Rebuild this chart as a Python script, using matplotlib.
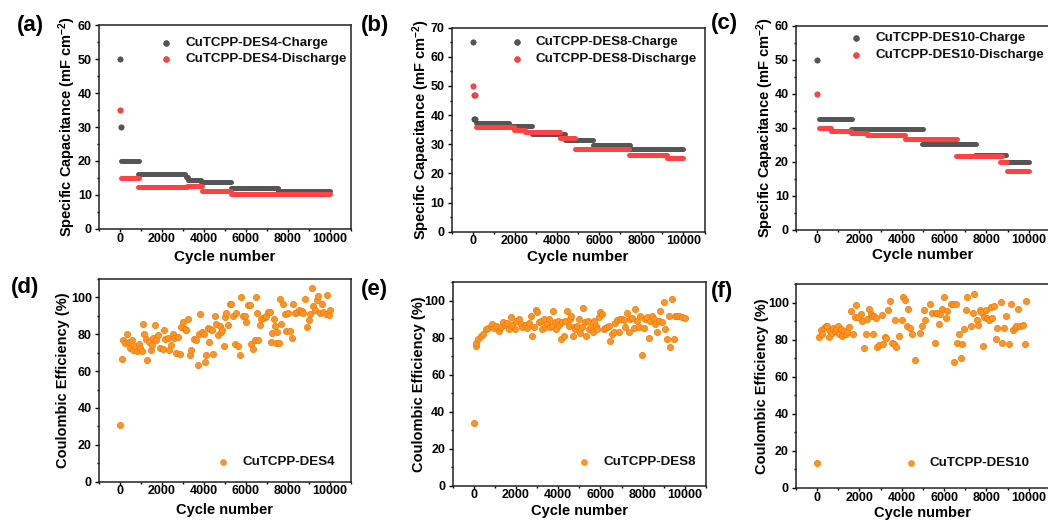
import matplotlib
matplotlib.use("Agg")
import matplotlib.pyplot as plt
from matplotlib.lines import Line2D
from matplotlib.ticker import MultipleLocator

plt.rcParams['font.family'] = ['Liberation Sans', 'DejaVu Sans']
plt.rcParams['font.weight'] = 'bold'
plt.rcParams['axes.labelweight'] = 'bold'
plt.rcParams['mathtext.default'] = 'regular'

# ---------------- data ----------------
# (a) CuTCPP-DES4
a_chg_pts_x = [0, 30]
a_chg_pts_y = [50.0, 30.0]
a_chg_seg_start = [50, 850, 3150, 3250, 3850, 5300, 7500]
a_chg_seg_end = [900, 3100, 3250, 3850, 5300, 7500, 10000]
a_chg_seg_val = [20.1, 16.3, 15.2, 14.4, 13.9, 12.0, 11.2]
a_dis_pts_x = [0]
a_dis_pts_y = [35.0]
a_dis_seg_start = [50, 850, 3200, 3900, 5300]
a_dis_seg_end = [900, 3200, 3900, 5300, 10000]
a_dis_seg_val = [15.0, 12.3, 12.7, 11.3, 10.3]

# (b) CuTCPP-DES8
b_chg_pts_x = [0, 50, 100]
b_chg_pts_y = [65.0, 38.6, 38.6]
b_chg_seg_start = [150, 1700, 2800, 4400, 5700, 7450]
b_chg_seg_end = [1700, 2800, 4400, 5700, 7450, 10000]
b_chg_seg_val = [37.3, 36.1, 33.6, 31.5, 29.9, 28.5]
b_dis_pts_x = [0, 50, 100]
b_dis_pts_y = [50.0, 46.8, 46.8]
b_dis_seg_start = [150, 1950, 2500, 4150, 4850, 7400, 9200]
b_dis_seg_end = [1950, 2500, 4150, 4850, 7400, 9200, 10000]
b_dis_seg_val = [36.0, 34.8, 34.2, 32.3, 28.5, 26.4, 25.4]

# (c) CuTCPP-DES10
c_chg_pts_x = [0]
c_chg_pts_y = [50.0]
c_chg_seg_start = [100, 1600, 4950, 7450, 8850]
c_chg_seg_end = [1650, 5000, 7500, 8900, 10000]
c_chg_seg_val = [32.6, 29.8, 25.3, 21.9, 19.9]
c_dis_pts_x = [0]
c_dis_pts_y = [40.0]
c_dis_seg_start = [100, 650, 1600, 2350, 4150, 6550, 8650, 8950]
c_dis_seg_end = [650, 1600, 2350, 4150, 6600, 8750, 8950, 10000]
c_dis_seg_val = [30.0, 29.0, 28.4, 27.9, 26.8, 21.6, 19.9, 17.2]

# (d) Coulombic efficiency DES4
d_cycle = [0, 96, 159, 255, 334, 446, 494, 573, 637, 732, 796, 892, 971, 1051, 1083, 1130,
           1242, 1290, 1401, 1481, 1528, 1592, 1656, 1719, 1815, 1910, 2038, 2086, 2165, 2277,
           2356, 2436, 2515, 2595, 2643, 2754, 2834, 2913, 2993, 3088, 3152, 3232, 3311, 3391,
           3502, 3598, 3709, 3757, 3821, 3884, 3980, 4044, 4107, 4187, 4235, 4298, 4362, 4426,
           4505, 4585, 4664, 4744, 4808, 4872, 4935, 4999, 5063, 5158, 5222, 5301, 5381, 5461,
           5540, 5636, 5700, 5779, 5859, 5939, 6018, 6098, 6177, 6241, 6336, 6416, 6464, 6543,
           6591, 6655, 6734, 6814, 6893, 6973, 7053, 7132, 7212, 7260, 7323, 7387, 7419, 7482,
           7562, 7610, 7689, 7769, 7864, 7928, 8008, 8087, 8167, 8247, 8326, 8406, 8533, 8597,
           8661, 8724, 8820, 8883, 8979, 9043, 9122, 9202, 9281, 9361, 9441, 9520, 9600, 9680,
           9807, 9880, 9930, 9990]
d_ce = [31.0, 66.6, 77.1, 75.3, 80.3, 75.8, 72.7, 77.1, 71.7, 73.5, 70.9, 74.5, 72.7, 70.9,
        85.4, 80.3, 77.4, 66.2, 75.6, 71.7, 74.0, 78.2, 84.8, 76.7, 79.4, 72.7, 72.2, 82.5,
        77.3, 78.2, 71.3, 74.0, 80.3, 78.2, 69.9, 78.5, 69.1, 83.9, 86.8, 83.0, 82.5, 88.3,
        68.6, 71.7, 77.4, 77.1, 63.2, 80.3, 90.8, 81.2, 80.0, 65.0, 68.6, 83.6, 75.8, 83.0,
        82.1, 69.5, 89.7, 85.7, 79.4, 84.7, 81.2, 82.1, 73.5, 89.3, 91.5, 85.2, 96.6, 96.6,
        90.1, 74.9, 91.5, 73.5, 68.6, 100.5, 89.7, 89.7, 86.8, 96.0, 96.0, 74.9, 72.2, 76.7,
        100.5, 91.7, 77.1, 84.8, 88.4, 89.0, 89.3, 89.9, 92.1, 92.1, 76.0, 80.7, 88.4, 84.7,
        75.3, 81.2, 75.3, 99.1, 85.4, 96.6, 91.2, 81.8, 91.3, 81.8, 78.2, 96.6, 91.5, 92.1,
        93.3, 92.1, 92.6, 91.5, 99.3, 83.9, 87.5, 91.2, 104.9, 95.3, 93.3, 98.4, 100.9, 91.7,
        96.2, 92.1, 91.2, 101.1, 90.3, 93.0]

# (e) Coulombic efficiency DES8
e_cycle = [0, 94, 126, 220, 331, 441, 567, 693, 803, 882, 961, 1040, 1197, 1276, 1386, 1481,
           1591, 1670, 1748, 1827, 1953, 2016, 2142, 2221, 2300, 2426, 2536, 2615, 2693, 2772,
           2851, 2930, 3008, 3087, 3166, 3245, 3323, 3402, 3481, 3560, 3638, 3717, 3764, 3843,
           3906, 4000, 4064, 4127, 4190, 4268, 4347, 4426, 4505, 4583, 4631, 4694, 4757, 4820,
           4898, 4977, 5056, 5135, 5198, 5261, 5339, 5418, 5481, 5576, 5639, 5702, 5796, 5859,
           5922, 6001, 6080, 6158, 6237, 6332, 6395, 6473, 6552, 6631, 6710, 6788, 6867, 6946,
           7025, 7103, 7182, 7261, 7340, 7418, 7497, 7576, 7655, 7733, 7812, 7891, 7970, 8048,
           8127, 8206, 8285, 8363, 8442, 8521, 8600, 8678, 8757, 8836, 8915, 8993, 9072, 9151,
           9230, 9308, 9387, 9466, 9545, 9623, 9702, 9860, 9990]
e_ce = [34.1, 75.2, 77.2, 79.3, 81.1, 82.0, 84.4, 85.1, 86.2, 87.4, 85.1, 86.5, 83.8, 85.6,
        88.3, 86.9, 88.0, 84.7, 91.0, 86.9, 84.7, 89.2, 90.1, 87.4, 85.6, 86.9, 85.1, 88.0,
        91.4, 81.1, 85.6, 95.0, 93.7, 88.3, 89.2, 84.7, 89.8, 85.6, 87.4, 90.1, 85.6, 86.5,
        94.6, 88.3, 84.7, 88.7, 86.9, 79.3, 88.3, 81.1, 89.2, 94.6, 86.5, 90.1, 91.4, 81.1,
        85.6, 84.7, 86.5, 90.1, 82.6, 85.6, 95.9, 88.3, 81.1, 88.7, 84.7, 85.6, 82.9, 88.7,
        86.5, 84.7, 91.0, 93.7, 92.8, 84.7, 85.1, 85.6, 86.2, 78.4, 82.0, 82.9, 88.0, 89.6,
        82.9, 90.1, 90.1, 89.6, 85.6, 93.3, 82.9, 90.1, 90.5, 85.1, 95.5, 89.2, 85.6, 91.9,
        70.7, 85.1, 90.1, 91.0, 79.7, 89.2, 91.9, 90.1, 87.4, 82.9, 89.2, 94.6, 88.3, 99.4,
        84.7, 79.0, 91.9, 74.9, 100.9, 79.3, 91.9, 91.9, 91.5, 91.0, 90.6]

# (f) Coulombic efficiency DES10
f_cycle = [0, 79, 158, 205, 315, 394, 473, 552, 599, 678, 741, 836, 899, 962, 1025, 1104,
           1183, 1262, 1340, 1419, 1498, 1577, 1687, 1782, 1845, 1940, 2050, 2129, 2208, 2287,
           2366, 2444, 2523, 2602, 2634, 2681, 2760, 2839, 2917, 3044, 3107, 3201, 3264, 3359,
           3422, 3517, 3627, 3674, 3737, 3864, 3990, 4053, 4148, 4258, 4305, 4400, 4463, 4621,
           4841, 4936, 5031, 5094, 5314, 5441, 5567, 5598, 5677, 5756, 5803, 5882, 5993, 6071,
           6150, 6324, 6418, 6466, 6544, 6623, 6702, 6781, 6860, 6939, 7018, 7097, 7254, 7365,
           7412, 7570, 7617, 7680, 7743, 7853, 7901, 7964, 8043, 8122, 8200, 8279, 8358, 8437,
           8516, 8674, 8752, 8831, 8910, 9068, 9147, 9257, 9352, 9415, 9509, 9572, 9746, 9825,
           9888]
f_ce = [13.5, 81.7, 85.1, 82.9, 86.5, 87.4, 87.4, 81.5, 84.7, 83.8, 86.5, 84.7, 85.6, 87.4,
        82.9, 85.6, 82.0, 84.7, 82.9, 84.4, 86.9, 95.5, 82.9, 92.3, 98.7, 92.6, 94.1, 90.1,
        75.7, 82.9, 91.5, 96.4, 93.7, 92.8, 82.9, 92.8, 91.9, 76.3, 77.2, 93.3, 77.5, 81.5,
        80.8, 96.2, 101.2, 78.3, 77.9, 90.5, 76.1, 82.0, 90.5, 103.2, 101.4, 87.4, 96.4, 86.5,
        82.9, 68.9, 83.8, 87.4, 95.9, 90.5, 99.4, 94.6, 78.4, 94.6, 94.6, 88.7, 94.1, 96.9,
        103.0, 91.9, 95.5, 99.4, 99.4, 68.2, 99.6, 78.4, 83.3, 70.0, 77.9, 85.6, 95.9, 103.0,
        87.4, 94.6, 104.8, 90.5, 88.0, 95.9, 95.1, 76.6, 92.3, 95.9, 91.9, 90.5, 97.6, 91.9,
        98.2, 80.2, 86.5, 100.5, 78.4, 86.5, 92.8, 77.9, 99.1, 85.1, 86.5, 87.4, 96.9, 87.4,
        88.0, 77.9, 101.2]

a_labels = ['CuTCPP-DES4-Charge', 'CuTCPP-DES4-Discharge']
b_labels = ['CuTCPP-DES8-Charge', 'CuTCPP-DES8-Discharge']
c_labels = ['CuTCPP-DES10-Charge', 'CuTCPP-DES10-Discharge']
d_label = 'CuTCPP-DES4'
e_label = 'CuTCPP-DES8'
f_label = 'CuTCPP-DES10'
x_ticks = [0, 2000, 4000, 6000, 8000, 10000]

# ---------------- style ----------------
W, H = 1048, 522
GRAY = '#555555'
GRAY_E = '#404040'
RED = '#ff4242'
RED_E = '#ea2828'
ORANGE = '#ff9526'
ORANGE_E = '#f07800'
TICK_FS = 9
LAB_FS = 11
YLAB_FS = 10.5
LEG_FS = 9.6
PANEL_FS = 16


def rect(l, r, t, b):
    return [l / W, 1 - b / H, (r - l) / W, (b - t) / H]


def fx(x):
    return x / W


def fy(y):
    return 1 - y / H


fig = plt.figure(figsize=(W / 100, H / 100), dpi=100)

ax_a = fig.add_axes(rect(99, 351, 25, 229))
ax_b = fig.add_axes(rect(451.7, 704.5, 27.7, 231.7))
ax_c = fig.add_axes(rect(796, 1050, 25.7, 230))
ax_d = fig.add_axes(rect(99, 351, 279, 481.7))
ax_e = fig.add_axes(rect(452.5, 706, 282, 485.7))
ax_f = fig.add_axes(rect(796, 1050, 284.3, 488))


def style_axes(ax, ymax, ymajor, yminor, ylabel, ylab_off, xlab_off, xlab_fs):
    ax.set_xlim(-1000, 11000)
    ax.set_ylim(0, ymax)
    ax.set_xticks(x_ticks)
    ax.xaxis.set_minor_locator(MultipleLocator(1000))
    ax.yaxis.set_major_locator(MultipleLocator(ymajor))
    ax.yaxis.set_minor_locator(MultipleLocator(yminor))
    ax.tick_params(which='both', direction='out', top=False, right=False,
                   labelsize=TICK_FS, width=1.0)
    ax.tick_params(axis='x', which='major', length=2.5, pad=0.2)
    ax.tick_params(axis='y', which='major', length=3, pad=2.2)
    ax.tick_params(which='minor', length=1.5)
    for lab in ax.get_xticklabels() + ax.get_yticklabels():
        lab.set_fontweight('bold')
    for s in ax.spines.values():
        s.set_linewidth(1.1)
        s.set_color('#222222')
    ax.set_xlabel('Cycle number', fontsize=xlab_fs, fontweight='bold')
    ax.set_ylabel(ylabel, fontsize=YLAB_FS, fontweight='bold')
    bb = ax.get_position()
    wpx = bb.width * W
    hpx = bb.height * H
    ax.yaxis.set_label_coords(-ylab_off / wpx, 0.5)
    ax.xaxis.set_label_coords(0.5, -xlab_off / hpx)


def draw_steps(ax, px, py, s0, s1, sv, color, ecolor):
    ax.hlines(sv, s0, s1, colors=color, linewidth=3.6, capstyle='round', zorder=3)
    ax.scatter(px, py, s=15, color=color, edgecolors=ecolor, linewidths=0.4, zorder=4)


def legend_rows(items, mx, tx, rows):
    for (color, ecolor, label), ry in zip(items, rows):
        fig.add_artist(Line2D([fx(mx)], [fy(ry)], marker='o', markersize=4.2,
                              color=color, markeredgecolor=ecolor, markeredgewidth=0.4,
                              linestyle='none', transform=fig.transFigure))
        fig.text(fx(tx), fy(ry), label, fontsize=LEG_FS, fontweight='bold',
                 ha='left', va='center', color='#111111')


ylab_cap = 'Specific Capacitance (mF cm$^{-2}$)'
ylab_ce = 'Coulombic Efficiency (%)'

# (a)
draw_steps(ax_a, a_chg_pts_x, a_chg_pts_y, a_chg_seg_start, a_chg_seg_end, a_chg_seg_val, GRAY, GRAY_E)
draw_steps(ax_a, a_dis_pts_x, a_dis_pts_y, a_dis_seg_start, a_dis_seg_end, a_dis_seg_val, RED, RED_E)
style_axes(ax_a, 60, 10, 5, ylab_cap, 21, 21.4, LAB_FS)
legend_rows([(GRAY, GRAY_E, a_labels[0]), (RED, RED_E, a_labels[1])], 165.7, 185, [42.7, 59.3])

# (b)
draw_steps(ax_b, b_chg_pts_x, b_chg_pts_y, b_chg_seg_start, b_chg_seg_end, b_chg_seg_val, GRAY, GRAY_E)
draw_steps(ax_b, b_dis_pts_x, b_dis_pts_y, b_dis_seg_start, b_dis_seg_end, b_dis_seg_val, RED, RED_E)
style_axes(ax_b, 70, 10, 5, ylab_cap, 20, 18, LAB_FS)
legend_rows([(GRAY, GRAY_E, b_labels[0]), (RED, RED_E, b_labels[1])], 516.7, 535, [42.3, 59.3])

# (c)
draw_steps(ax_c, c_chg_pts_x, c_chg_pts_y, c_chg_seg_start, c_chg_seg_end, c_chg_seg_val, GRAY, GRAY_E)
draw_steps(ax_c, c_dis_pts_x, c_dis_pts_y, c_dis_seg_start, c_dis_seg_end, c_dis_seg_val, RED, RED_E)
style_axes(ax_c, 60, 10, 5, ylab_cap, 20, 18, LAB_FS)
legend_rows([(GRAY, GRAY_E, c_labels[0]), (RED, RED_E, c_labels[1])], 855.7, 875, [38.3, 55])

# (d)(e)(f)
for ax, cx, cy, lab, mx, tx, ry, yo, xo in [
        (ax_d, d_cycle, d_ce, d_label, 223.3, 242.7, 462.3, 29, 21.5),
        (ax_e, e_cycle, e_ce, e_label, 584.3, 603.3, 461.7, 27, 18.3),
        (ax_f, f_cycle, f_ce, f_label, 910.7, 930, 463.3, 27, 18)]:
    ax.scatter(cx, cy, s=20, color=ORANGE, edgecolors=ORANGE_E, linewidths=0.5, zorder=3)
    style_axes(ax, 110, 20, 10, ylab_ce, yo, xo, 10.5)
    legend_rows([(ORANGE, ORANGE_E, lab)], mx, tx, [ry])

# panel labels
for txt, x, y in [('(a)', 17, 25), ('(b)', 360.7, 25), ('(c)', 710.7, 23),
                  ('(d)', 11, 288), ('(e)', 360.7, 290), ('(f)', 710.7, 291.7)]:
    fig.text(fx(x), fy(y), txt, fontsize=PANEL_FS, fontweight='bold',
             ha='left', va='center', color='black')

fig.savefig('out.png', dpi=100)
